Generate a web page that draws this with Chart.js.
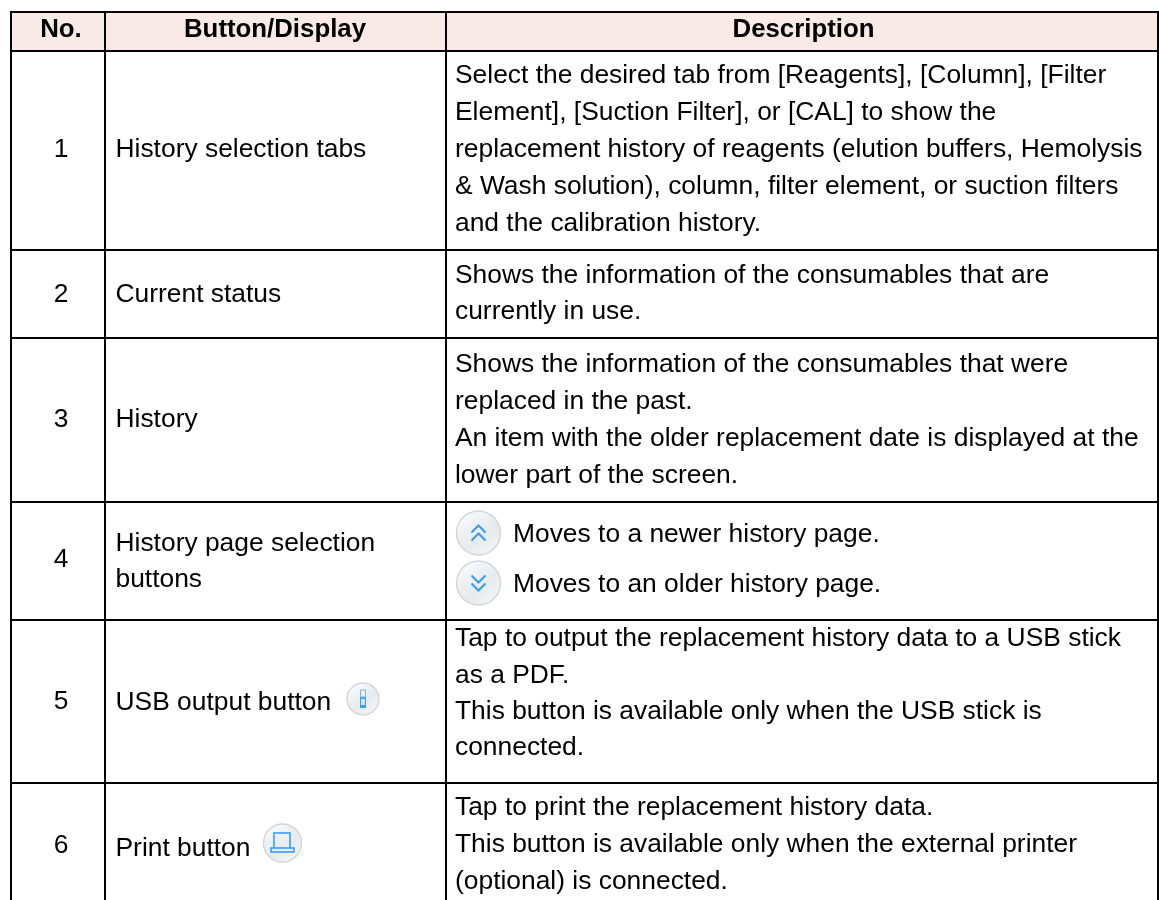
<!DOCTYPE html>
<html><head><meta charset="utf-8">
<style>html,body{margin:0;padding:0;background:#fff}#w{width:1159px;height:900px}</style>
<script src="https://cdn.jsdelivr.net/npm/chart.js@4"></script></head>
<body><div id="w"><canvas id="c" width="1159" height="900"></canvas></div>
<script>
const headers=["No.","Button/Display","Description"];
const numbers=["1","2","3","4","5","6"];
const buttons=[["History selection tabs"],["Current status"],["History"],["History page selection","buttons"],["USB output button"],["Print button"]];
const descriptions=[
["Select the desired tab from [Reagents], [Column], [Filter","Element], [Suction Filter], or [CAL] to show the","replacement history of reagents (elution buffers, Hemolysis","& Wash solution), column, filter element, or suction filters","and the calibration history."],
["Shows the information of the consumables that are","currently in use."],
["Shows the information of the consumables that were","replaced in the past.","An item with the older replacement date is displayed at the","lower part of the screen."],
["Moves to a newer history page.","Moves to an older history page."],
["Tap to output the replacement history data to a USB stick","as a PDF.","This button is available only when the USB stick is","connected."],
["Tap to print the replacement history data.","This button is available only when the external printer","(optional) is connected."]];
const colEdges=[11,105,446,1158];
const rowEdges=[12,51,250,338,502,620,783];
const numBase=[157,302,427,567,709,853];
const btnBase=[[157],[302],[427],[551,587],[710],[856]];
const descBase=[[83,120,157,194,231],[283,319],[372,409,446,483],[542,592],[646,683,719,755],[815,852,889]];
const headerX=[61,275,803.5];
const FONT='"Liberation Sans", Arial, sans-serif';
function circle(ctx,cx,cy,r){
  const g=ctx.createLinearGradient(cx-r*.6,cy-r*.8,cx+r*.6,cy+r*.8);
  g.addColorStop(0,'#f6f8fa');g.addColorStop(.6,'#e6eaee');g.addColorStop(1,'#f2f3f5');
  ctx.beginPath();ctx.arc(cx,cy,r,0,Math.PI*2);ctx.fillStyle=g;ctx.fill();
  ctx.strokeStyle='#d3d6d9';ctx.lineWidth=1.4;ctx.stroke();
}
function chev(ctx,cx,y,dir){ctx.beginPath();ctx.moveTo(cx-7,y+dir*-3.5);ctx.lineTo(cx,y+dir*3.5);ctx.lineTo(cx+7,y+dir*-3.5);ctx.stroke();}
const table={id:'table',beforeDatasetsDraw(ch){
  const {ctx,scales:{x,y}}=ch;const X=v=>x.getPixelForValue(v),Y=v=>y.getPixelForValue(v);
  ctx.save();
  ctx.fillStyle='#fff';ctx.fillRect(0,0,1159,900);
  ctx.fillStyle='#faeae7';ctx.fillRect(X(colEdges[0]),Y(rowEdges[0]),X(colEdges[3])-X(colEdges[0]),Y(rowEdges[1])-Y(rowEdges[0]));
  ctx.fillStyle='#000';ctx.textBaseline='alphabetic';
  ctx.font='bold 25.8px '+FONT;ctx.textAlign='center';
  headers.forEach((h,i)=>ctx.fillText(h,X(headerX[i]),Y(37)));
  ctx.font='26.4px '+FONT;
  numbers.forEach((n,i)=>{
    ctx.textAlign='center';ctx.fillText(n,X(61),Y(numBase[i]));
    ctx.textAlign='left';
    buttons[i].forEach((t,j)=>ctx.fillText(t,X(115.5),Y(btnBase[i][j])));
    descriptions[i].forEach((t,j)=>ctx.fillText(t,X(i==3?513:455),Y(descBase[i][j])));
  });
  ctx.strokeStyle='#000';ctx.lineWidth=2;
  rowEdges.forEach(r=>{ctx.beginPath();ctx.moveTo(X(colEdges[0])-1,Y(r));ctx.lineTo(X(colEdges[3])+1,Y(r));ctx.stroke();});
  colEdges.forEach(c=>{ctx.beginPath();ctx.moveTo(X(c),Y(rowEdges[0]));ctx.lineTo(X(c),Y(900));ctx.stroke();});
  circle(ctx,X(478.5),Y(533),22);circle(ctx,X(478.5),Y(583),22);
  ctx.strokeStyle='#3a9be8';ctx.lineWidth=2;
  chev(ctx,X(478.5),Y(529),-1);chev(ctx,X(478.5),Y(537),-1);
  chev(ctx,X(478.5),Y(579),1);chev(ctx,X(478.5),Y(587),1);
  circle(ctx,X(363),Y(699),16);
  ctx.fillStyle='#3f9fe0';ctx.fillRect(X(360),Y(697),6,11);
  ctx.strokeStyle='#7fb6de';ctx.lineWidth=1;ctx.strokeRect(X(360.5),Y(690),5,7);
  ctx.fillStyle='#cfe3f2';ctx.fillRect(X(361),Y(699),4,6);
  circle(ctx,X(282.5),Y(843),19);
  ctx.strokeStyle='#2f96f5';ctx.lineWidth=1.5;
  ctx.strokeRect(X(274),Y(833),16,18);
  ctx.fillStyle='#e8ecf0';ctx.fillRect(X(271),Y(848),23,4);ctx.strokeRect(X(271),Y(848),23,4);
  ctx.restore();
}};
new Chart(document.getElementById('c'),{type:'scatter',
 data:{datasets:[{data:[],pointRadius:0}]},
 options:{responsive:false,animation:false,layout:{padding:0},
  plugins:{legend:{display:false},tooltip:{enabled:false}},
  scales:{x:{type:'linear',min:0,max:1159,display:false},y:{type:'linear',min:0,max:900,reverse:true,display:false}}},
 plugins:[table]});
</script></body></html>
